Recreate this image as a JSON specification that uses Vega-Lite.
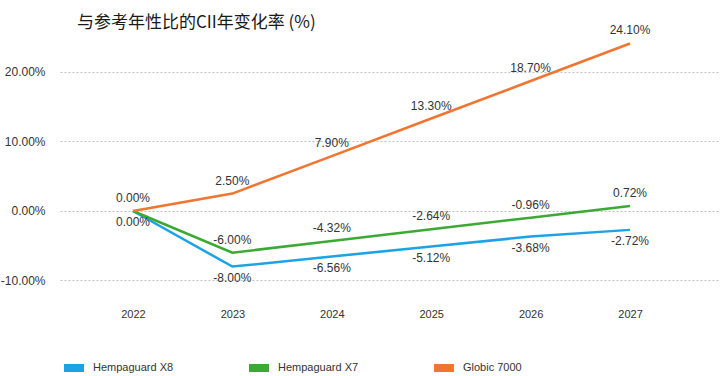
{
  "$schema": "https://vega.github.io/schema/vega-lite/v6.json",
  "autosize": "none",
  "width": 658,
  "height": 270,
  "padding": {"left": 60, "top": 30, "right": 2, "bottom": 76},
  "config": {
    "view": {"stroke": null},
    "font": "Liberation Sans",
    "locale": {"number": {"decimal": ".", "thousands": ",", "grouping": [3], "currency": ["$", ""], "minus": "-"}}
  },
  "title": {
    "text": "与参考年性比的CII年变化率 (%)",
    "font": "Noto Sans CJK SC",
    "fontSize": 17,
    "fontWeight": "normal",
    "color": "#1a1a1a",
    "anchor": "start",
    "frame": "group",
    "dx": 17,
    "dy": 12,
    "offset": 4
  },
  "data": {
    "values": [
      {"year": 2022, "series": "Hempaguard X8", "value": 0.0},
      {"year": 2023, "series": "Hempaguard X8", "value": -0.08},
      {"year": 2024, "series": "Hempaguard X8", "value": -0.0656},
      {"year": 2025, "series": "Hempaguard X8", "value": -0.0512},
      {"year": 2026, "series": "Hempaguard X8", "value": -0.0368},
      {"year": 2027, "series": "Hempaguard X8", "value": -0.0272},
      {"year": 2022, "series": "Hempaguard X7", "value": 0.0},
      {"year": 2023, "series": "Hempaguard X7", "value": -0.06},
      {"year": 2024, "series": "Hempaguard X7", "value": -0.0432},
      {"year": 2025, "series": "Hempaguard X7", "value": -0.0264},
      {"year": 2026, "series": "Hempaguard X7", "value": -0.0096},
      {"year": 2027, "series": "Hempaguard X7", "value": 0.0072},
      {"year": 2022, "series": "Globic 7000", "value": 0.0},
      {"year": 2023, "series": "Globic 7000", "value": 0.025},
      {"year": 2024, "series": "Globic 7000", "value": 0.079},
      {"year": 2025, "series": "Globic 7000", "value": 0.133},
      {"year": 2026, "series": "Globic 7000", "value": 0.187},
      {"year": 2027, "series": "Globic 7000", "value": 0.241}
    ]
  },
  "encoding": {
    "x": {
      "field": "year",
      "type": "quantitative",
      "scale": {"domain": [2021.266, 2027.885], "nice": false, "zero": false},
      "axis": {
        "values": [2022, 2023, 2024, 2025, 2026, 2027],
        "format": "d",
        "title": null,
        "domain": false,
        "ticks": false,
        "grid": false,
        "labelFontSize": 11,
        "labelColor": "#333333",
        "labelPadding": 8
      }
    },
    "y": {
      "field": "value",
      "type": "quantitative",
      "scale": {"domain": [-0.1281, 0.2604], "nice": false, "zero": false},
      "axis": {
        "values": [-0.1, 0, 0.1, 0.2],
        "format": ".2%",
        "title": null,
        "domain": false,
        "ticks": false,
        "grid": true,
        "gridColor": "#c0c0c0",
        "gridDash": [2, 2],
        "gridWidth": 1,
        "labelFontSize": 12,
        "labelColor": "#333333",
        "labelPadding": 15
      }
    }
  },
  "layer": [
    {
      "mark": {"type": "line", "strokeWidth": 2.5},
      "encoding": {
        "color": {
          "field": "series",
          "type": "nominal",
          "scale": {
            "domain": ["Hempaguard X8", "Hempaguard X7", "Globic 7000"],
            "range": ["#1BA3E6", "#3BAA35", "#F07530"]
          },
          "legend": {
            "title": null,
            "orient": "none",
            "direction": "horizontal",
            "legendX": 0,
            "legendY": 324,
            "symbolType": "M-1,0H1",
            "symbolSize": 400,
            "symbolStrokeWidth": 8,
            "labelFontSize": 11,
            "labelColor": "#333333",
            "labelOffset": 5,
            "columnPadding": 59
          }
        }
      }
    },
    {
      "transform": [{"filter": "datum.series === 'Globic 7000'"}],
      "mark": {"type": "text", "dy": -13, "fontSize": 12, "color": "#333333"},
      "encoding": {"text": {"field": "value", "type": "quantitative", "format": ".2%"}}
    },
    {
      "transform": [{"filter": "datum.series === 'Hempaguard X7' && datum.year > 2022"}],
      "mark": {"type": "text", "dy": -13, "fontSize": 12, "color": "#333333"},
      "encoding": {"text": {"field": "value", "type": "quantitative", "format": ".2%"}}
    },
    {
      "transform": [{"filter": "datum.series === 'Hempaguard X8'"}],
      "mark": {"type": "text", "dy": 11, "fontSize": 12, "color": "#333333"},
      "encoding": {"text": {"field": "value", "type": "quantitative", "format": ".2%"}}
    }
  ]
}
